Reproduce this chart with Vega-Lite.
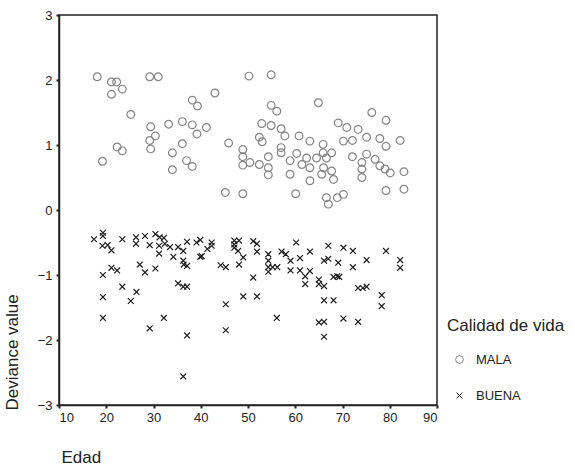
{
  "$schema": "https://vega.github.io/schema/vega-lite/v6.json",
  "autosize": {"type": "none"},
  "width": 378,
  "height": 390,
  "padding": {"left": 59, "top": 15, "right": 138, "bottom": 64},
  "background": "white",
  "config": {
    "font": "Liberation Sans",
    "view": {"stroke": "#222", "strokeWidth": 1.5},
    "axis": {"grid": false, "domainColor": "#222", "domainWidth": 1.5, "tickColor": "#222", "tickSize": 3, "tickWidth": 2, "labelColor": "#222", "labelFontSize": 13, "titleColor": "#222", "titleFontSize": 17, "titleFontWeight": "normal"}
  },
  "data": {"values": [
    {"Edad":18.1,"Dev":2.05,"Calidad":"MALA"},{"Edad":21.1,"Dev":1.97,"Calidad":"MALA"},{"Edad":22.2,"Dev":1.97,"Calidad":"MALA"},{"Edad":21.1,"Dev":1.78,"Calidad":"MALA"},{"Edad":23.4,"Dev":1.86,"Calidad":"MALA"},{"Edad":25.2,"Dev":1.47,"Calidad":"MALA"},{"Edad":19.2,"Dev":0.75,"Calidad":"MALA"},{"Edad":22.3,"Dev":0.97,"Calidad":"MALA"},{"Edad":23.4,"Dev":0.91,"Calidad":"MALA"},{"Edad":29.2,"Dev":2.05,"Calidad":"MALA"},{"Edad":31.0,"Dev":2.05,"Calidad":"MALA"},{"Edad":29.4,"Dev":1.28,"Calidad":"MALA"},{"Edad":30.4,"Dev":1.14,"Calidad":"MALA"},{"Edad":29.2,"Dev":1.07,"Calidad":"MALA"},{"Edad":29.4,"Dev":0.94,"Calidad":"MALA"},{"Edad":33.2,"Dev":1.32,"Calidad":"MALA"},{"Edad":36.1,"Dev":1.36,"Calidad":"MALA"},{"Edad":38.2,"Dev":1.31,"Calidad":"MALA"},{"Edad":39.2,"Dev":1.17,"Calidad":"MALA"},{"Edad":41.2,"Dev":1.27,"Calidad":"MALA"},{"Edad":36.1,"Dev":1.02,"Calidad":"MALA"},{"Edad":34.0,"Dev":0.88,"Calidad":"MALA"},{"Edad":37.0,"Dev":0.76,"Calidad":"MALA"},{"Edad":38.2,"Dev":0.67,"Calidad":"MALA"},{"Edad":34.0,"Dev":0.62,"Calidad":"MALA"},{"Edad":38.2,"Dev":1.69,"Calidad":"MALA"},{"Edad":39.3,"Dev":1.60,"Calidad":"MALA"},{"Edad":43.0,"Dev":1.80,"Calidad":"MALA"},{"Edad":45.9,"Dev":1.03,"Calidad":"MALA"},{"Edad":45.2,"Dev":0.27,"Calidad":"MALA"},{"Edad":50.2,"Dev":2.06,"Calidad":"MALA"},{"Edad":54.9,"Dev":2.08,"Calidad":"MALA"},{"Edad":54.9,"Dev":1.61,"Calidad":"MALA"},{"Edad":56.1,"Dev":1.52,"Calidad":"MALA"},{"Edad":64.9,"Dev":1.65,"Calidad":"MALA"},{"Edad":76.2,"Dev":1.50,"Calidad":"MALA"},{"Edad":79.2,"Dev":1.38,"Calidad":"MALA"},{"Edad":82.2,"Dev":1.07,"Calidad":"MALA"},{"Edad":52.9,"Dev":1.33,"Calidad":"MALA"},{"Edad":54.9,"Dev":1.30,"Calidad":"MALA"},{"Edad":57.0,"Dev":1.25,"Calidad":"MALA"},{"Edad":57.8,"Dev":1.14,"Calidad":"MALA"},{"Edad":52.4,"Dev":1.12,"Calidad":"MALA"},{"Edad":53.0,"Dev":1.05,"Calidad":"MALA"},{"Edad":48.9,"Dev":0.93,"Calidad":"MALA"},{"Edad":48.9,"Dev":0.82,"Calidad":"MALA"},{"Edad":48.9,"Dev":0.69,"Calidad":"MALA"},{"Edad":50.4,"Dev":0.73,"Calidad":"MALA"},{"Edad":52.4,"Dev":0.70,"Calidad":"MALA"},{"Edad":54.3,"Dev":0.82,"Calidad":"MALA"},{"Edad":54.3,"Dev":0.65,"Calidad":"MALA"},{"Edad":54.3,"Dev":0.54,"Calidad":"MALA"},{"Edad":57.0,"Dev":0.96,"Calidad":"MALA"},{"Edad":57.0,"Dev":0.88,"Calidad":"MALA"},{"Edad":58.9,"Dev":0.76,"Calidad":"MALA"},{"Edad":58.9,"Dev":0.55,"Calidad":"MALA"},{"Edad":60.8,"Dev":1.14,"Calidad":"MALA"},{"Edad":60.3,"Dev":0.87,"Calidad":"MALA"},{"Edad":63.1,"Dev":1.06,"Calidad":"MALA"},{"Edad":62.4,"Dev":0.80,"Calidad":"MALA"},{"Edad":63.1,"Dev":0.65,"Calidad":"MALA"},{"Edad":63.1,"Dev":0.45,"Calidad":"MALA"},{"Edad":61.4,"Dev":0.70,"Calidad":"MALA"},{"Edad":65.9,"Dev":1.01,"Calidad":"MALA"},{"Edad":65.9,"Dev":0.88,"Calidad":"MALA"},{"Edad":64.5,"Dev":0.80,"Calidad":"MALA"},{"Edad":66.6,"Dev":0.80,"Calidad":"MALA"},{"Edad":67.7,"Dev":0.88,"Calidad":"MALA"},{"Edad":66.0,"Dev":0.65,"Calidad":"MALA"},{"Edad":67.7,"Dev":0.60,"Calidad":"MALA"},{"Edad":68.1,"Dev":0.47,"Calidad":"MALA"},{"Edad":65.6,"Dev":0.55,"Calidad":"MALA"},{"Edad":66.6,"Dev":0.19,"Calidad":"MALA"},{"Edad":67.0,"Dev":0.09,"Calidad":"MALA"},{"Edad":68.9,"Dev":0.19,"Calidad":"MALA"},{"Edad":70.2,"Dev":0.24,"Calidad":"MALA"},{"Edad":69.1,"Dev":1.34,"Calidad":"MALA"},{"Edad":70.9,"Dev":1.27,"Calidad":"MALA"},{"Edad":73.3,"Dev":1.24,"Calidad":"MALA"},{"Edad":70.2,"Dev":1.06,"Calidad":"MALA"},{"Edad":72.1,"Dev":1.07,"Calidad":"MALA"},{"Edad":75.1,"Dev":1.12,"Calidad":"MALA"},{"Edad":77.9,"Dev":1.10,"Calidad":"MALA"},{"Edad":79.2,"Dev":0.98,"Calidad":"MALA"},{"Edad":75.1,"Dev":0.86,"Calidad":"MALA"},{"Edad":72.1,"Dev":0.82,"Calidad":"MALA"},{"Edad":74.1,"Dev":0.73,"Calidad":"MALA"},{"Edad":74.1,"Dev":0.63,"Calidad":"MALA"},{"Edad":74.1,"Dev":0.50,"Calidad":"MALA"},{"Edad":76.9,"Dev":0.78,"Calidad":"MALA"},{"Edad":77.9,"Dev":0.68,"Calidad":"MALA"},{"Edad":79.0,"Dev":0.63,"Calidad":"MALA"},{"Edad":80.1,"Dev":0.57,"Calidad":"MALA"},{"Edad":83.0,"Dev":0.59,"Calidad":"MALA"},{"Edad":79.2,"Dev":0.30,"Calidad":"MALA"},{"Edad":83.0,"Dev":0.32,"Calidad":"MALA"},{"Edad":48.9,"Dev":0.25,"Calidad":"MALA"},{"Edad":60.1,"Dev":0.25,"Calidad":"MALA"},
    {"Edad":17.4,"Dev":-0.45,"Calidad":"BUENA"},{"Edad":19.3,"Dev":-0.35,"Calidad":"BUENA"},{"Edad":19.3,"Dev":-0.40,"Calidad":"BUENA"},{"Edad":19.2,"Dev":-0.55,"Calidad":"BUENA"},{"Edad":20.3,"Dev":-0.54,"Calidad":"BUENA"},{"Edad":21.1,"Dev":-0.62,"Calidad":"BUENA"},{"Edad":23.4,"Dev":-0.45,"Calidad":"BUENA"},{"Edad":21.1,"Dev":-0.89,"Calidad":"BUENA"},{"Edad":22.3,"Dev":-0.93,"Calidad":"BUENA"},{"Edad":19.3,"Dev":-1.00,"Calidad":"BUENA"},{"Edad":23.4,"Dev":-1.18,"Calidad":"BUENA"},{"Edad":19.3,"Dev":-1.34,"Calidad":"BUENA"},{"Edad":19.3,"Dev":-1.66,"Calidad":"BUENA"},{"Edad":25.2,"Dev":-1.40,"Calidad":"BUENA"},{"Edad":26.4,"Dev":-1.26,"Calidad":"BUENA"},{"Edad":26.3,"Dev":-0.42,"Calidad":"BUENA"},{"Edad":26.3,"Dev":-0.52,"Calidad":"BUENA"},{"Edad":28.2,"Dev":-0.40,"Calidad":"BUENA"},{"Edad":29.2,"Dev":-0.54,"Calidad":"BUENA"},{"Edad":27.1,"Dev":-0.84,"Calidad":"BUENA"},{"Edad":28.2,"Dev":-0.96,"Calidad":"BUENA"},{"Edad":30.4,"Dev":-0.37,"Calidad":"BUENA"},{"Edad":31.3,"Dev":-0.42,"Calidad":"BUENA"},{"Edad":32.2,"Dev":-0.43,"Calidad":"BUENA"},{"Edad":31.2,"Dev":-0.55,"Calidad":"BUENA"},{"Edad":31.2,"Dev":-0.67,"Calidad":"BUENA"},{"Edad":32.4,"Dev":-0.52,"Calidad":"BUENA"},{"Edad":33.5,"Dev":-0.57,"Calidad":"BUENA"},{"Edad":35.2,"Dev":-0.57,"Calidad":"BUENA"},{"Edad":36.3,"Dev":-0.63,"Calidad":"BUENA"},{"Edad":34.2,"Dev":-0.72,"Calidad":"BUENA"},{"Edad":36.3,"Dev":-0.78,"Calidad":"BUENA"},{"Edad":36.4,"Dev":-0.84,"Calidad":"BUENA"},{"Edad":37.1,"Dev":-0.86,"Calidad":"BUENA"},{"Edad":37.1,"Dev":-0.49,"Calidad":"BUENA"},{"Edad":39.1,"Dev":-0.50,"Calidad":"BUENA"},{"Edad":39.9,"Dev":-0.46,"Calidad":"BUENA"},{"Edad":42.3,"Dev":-0.50,"Calidad":"BUENA"},{"Edad":42.3,"Dev":-0.55,"Calidad":"BUENA"},{"Edad":41.4,"Dev":-0.60,"Calidad":"BUENA"},{"Edad":39.9,"Dev":-0.72,"Calidad":"BUENA"},{"Edad":30.4,"Dev":-0.90,"Calidad":"BUENA"},{"Edad":35.2,"Dev":-1.13,"Calidad":"BUENA"},{"Edad":36.3,"Dev":-1.18,"Calidad":"BUENA"},{"Edad":37.1,"Dev":-1.18,"Calidad":"BUENA"},{"Edad":29.2,"Dev":-1.82,"Calidad":"BUENA"},{"Edad":32.2,"Dev":-1.66,"Calidad":"BUENA"},{"Edad":37.1,"Dev":-1.93,"Calidad":"BUENA"},{"Edad":36.3,"Dev":-2.56,"Calidad":"BUENA"},{"Edad":44.2,"Dev":-0.85,"Calidad":"BUENA"},{"Edad":45.3,"Dev":-0.88,"Calidad":"BUENA"},{"Edad":45.3,"Dev":-1.45,"Calidad":"BUENA"},{"Edad":45.3,"Dev":-1.85,"Calidad":"BUENA"},{"Edad":47.1,"Dev":-0.47,"Calidad":"BUENA"},{"Edad":48.1,"Dev":-0.47,"Calidad":"BUENA"},{"Edad":47.1,"Dev":-0.53,"Calidad":"BUENA"},{"Edad":47.1,"Dev":-0.58,"Calidad":"BUENA"},{"Edad":47.9,"Dev":-0.63,"Calidad":"BUENA"},{"Edad":49.0,"Dev":-0.73,"Calidad":"BUENA"},{"Edad":48.1,"Dev":-0.84,"Calidad":"BUENA"},{"Edad":51.1,"Dev":-0.48,"Calidad":"BUENA"},{"Edad":51.9,"Dev":-0.52,"Calidad":"BUENA"},{"Edad":51.9,"Dev":-0.64,"Calidad":"BUENA"},{"Edad":51.1,"Dev":-1.04,"Calidad":"BUENA"},{"Edad":49.0,"Dev":-1.33,"Calidad":"BUENA"},{"Edad":51.9,"Dev":-1.33,"Calidad":"BUENA"},{"Edad":54.3,"Dev":-0.68,"Calidad":"BUENA"},{"Edad":54.3,"Dev":-0.78,"Calidad":"BUENA"},{"Edad":54.3,"Dev":-0.88,"Calidad":"BUENA"},{"Edad":54.3,"Dev":-0.95,"Calidad":"BUENA"},{"Edad":55.2,"Dev":-0.88,"Calidad":"BUENA"},{"Edad":56.2,"Dev":-0.88,"Calidad":"BUENA"},{"Edad":56.1,"Dev":-1.66,"Calidad":"BUENA"},{"Edad":57.1,"Dev":-0.64,"Calidad":"BUENA"},{"Edad":58.0,"Dev":-0.68,"Calidad":"BUENA"},{"Edad":59.0,"Dev":-0.78,"Calidad":"BUENA"},{"Edad":59.0,"Dev":-0.93,"Calidad":"BUENA"},{"Edad":60.2,"Dev":-0.50,"Calidad":"BUENA"},{"Edad":61.0,"Dev":-0.74,"Calidad":"BUENA"},{"Edad":61.0,"Dev":-0.93,"Calidad":"BUENA"},{"Edad":62.1,"Dev":-1.02,"Calidad":"BUENA"},{"Edad":62.1,"Dev":-1.14,"Calidad":"BUENA"},{"Edad":63.1,"Dev":-0.64,"Calidad":"BUENA"},{"Edad":63.1,"Dev":-0.94,"Calidad":"BUENA"},{"Edad":65.0,"Dev":-1.07,"Calidad":"BUENA"},{"Edad":65.0,"Dev":-1.14,"Calidad":"BUENA"},{"Edad":66.1,"Dev":-1.17,"Calidad":"BUENA"},{"Edad":66.1,"Dev":-1.39,"Calidad":"BUENA"},{"Edad":68.1,"Dev":-1.39,"Calidad":"BUENA"},{"Edad":65.0,"Dev":-1.73,"Calidad":"BUENA"},{"Edad":66.1,"Dev":-1.72,"Calidad":"BUENA"},{"Edad":66.1,"Dev":-1.95,"Calidad":"BUENA"},{"Edad":67.0,"Dev":-0.55,"Calidad":"BUENA"},{"Edad":66.1,"Dev":-0.78,"Calidad":"BUENA"},{"Edad":67.0,"Dev":-0.75,"Calidad":"BUENA"},{"Edad":69.1,"Dev":-0.81,"Calidad":"BUENA"},{"Edad":68.1,"Dev":-1.03,"Calidad":"BUENA"},{"Edad":68.9,"Dev":-1.02,"Calidad":"BUENA"},{"Edad":69.3,"Dev":-1.03,"Calidad":"BUENA"},{"Edad":70.2,"Dev":-0.58,"Calidad":"BUENA"},{"Edad":72.2,"Dev":-0.63,"Calidad":"BUENA"},{"Edad":72.2,"Dev":-0.88,"Calidad":"BUENA"},{"Edad":70.2,"Dev":-1.67,"Calidad":"BUENA"},{"Edad":73.3,"Dev":-1.72,"Calidad":"BUENA"},{"Edad":75.1,"Dev":-0.77,"Calidad":"BUENA"},{"Edad":73.3,"Dev":-1.20,"Calidad":"BUENA"},{"Edad":74.3,"Dev":-1.20,"Calidad":"BUENA"},{"Edad":75.1,"Dev":-1.18,"Calidad":"BUENA"},{"Edad":78.3,"Dev":-1.31,"Calidad":"BUENA"},{"Edad":78.3,"Dev":-1.48,"Calidad":"BUENA"},{"Edad":79.2,"Dev":-0.63,"Calidad":"BUENA"},{"Edad":82.2,"Dev":-0.77,"Calidad":"BUENA"},{"Edad":82.2,"Dev":-0.89,"Calidad":"BUENA"},{"Edad":40.2,"Dev":-0.71,"Calidad":"BUENA"}
  ]},
  "mark": {"type": "point", "filled": false, "strokeWidth": 1.2, "opacity": 1},
  "encoding": {
    "x": {"field": "Edad", "type": "quantitative", "scale": {"domain": [10, 90], "nice": false, "zero": false},
      "axis": {"values": [10,20,30,40,50,60,70,80,90], "title": "Edad", "titleAlign": "left", "titleAnchor": "start", "titleX": 2, "titleY": 57, "titleBaseline": "alphabetic", "labelPadding": 3}},
    "y": {"field": "Dev", "type": "quantitative", "scale": {"domain": [-3, 3], "nice": false, "zero": false},
      "axis": {"values": [-3,-2,-1,0,1,2,3], "title": "Deviance value", "titleAngle": 270, "titleAlign": "left", "titleBaseline": "middle", "titleX": -47, "titleY": 395, "labelPadding": 4}},
    "shape": {"field": "Calidad", "type": "nominal", "title": "Calidad de vida",
      "scale": {"domain": ["MALA", "BUENA"], "range": ["circle", "M-1,-1L1,1M-1,1L1,-1"]}},
    "color": {"field": "Calidad", "type": "nominal", "title": "Calidad de vida",
      "scale": {"domain": ["MALA", "BUENA"], "range": ["#858585", "#1c1c1c"]}},
    "size": {"field": "Calidad", "type": "nominal", "title": "Calidad de vida",
      "scale": {"domain": ["MALA", "BUENA"], "range": [60, 34]},
      "legend": {"orient": "none", "legendX": 388, "legendY": 303, "titleFontSize": 17, "titleFontWeight": "normal", "titleColor": "#222", "titlePadding": 18, "labelFontSize": 13, "labelColor": "#222", "rowPadding": 22, "symbolOffset": 6, "labelOffset": 10, "symbolStrokeWidth": 1}}
  }
}
